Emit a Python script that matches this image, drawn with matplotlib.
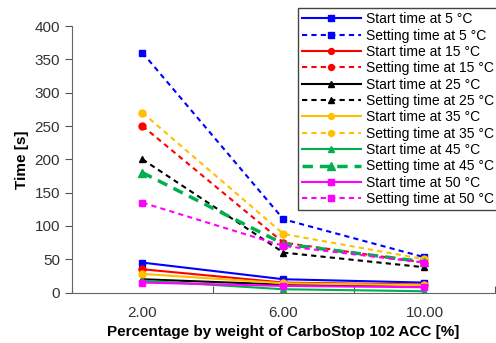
import numpy as np
from matplotlib import pyplot as plt

plt.rcParams['font.family'] = ['Liberation Sans', 'DejaVu Sans']

categories = ['2.00', '6.00', '10.00']
temps = [5, 15, 25, 35, 45, 50]

start_5 = [45, 20, 15]
setting_5 = [360, 110, 53]
start_15 = [35, 15, 12]
setting_15 = [250, 75, 45]
start_25 = [20, 12, 10]
setting_25 = [200, 60, 38]
start_35 = [28, 14, 11]
setting_35 = [270, 88, 50]
start_45 = [18, 5, 2]
setting_45 = [180, 73, 46]
start_50 = [15, 10, 8]
setting_50 = [135, 70, 45]

starts = [start_5, start_15, start_25, start_35, start_45, start_50]
settings = [setting_5, setting_15, setting_25, setting_35, setting_45, setting_50]
colors = ['#0000FF', '#FF0000', '#000000', '#FFC000', '#00B050', '#FF00FF']
markers = ['s', 'o', '^', 'o', '^', 's']

fig = plt.figure(figsize=(4.96, 3.43), dpi=100)
ax = fig.add_axes([0.145, 0.147, 0.853, 0.777])
x = np.arange(len(categories))

for t, st, se, c, m in zip(temps, starts, settings, colors, markers):
    ax.plot(x, st, '-', color=c, marker=m, ms=5, lw=1.5, label='Start time at %d °C' % t)
    if t == 45:
        ax.plot(x, se, '--', color=c, marker=m, ms=6, lw=2.5, dashes=(3, 2),
                label='Setting time at %d °C' % t)
    else:
        ax.plot(x, se, '--', color=c, marker=m, ms=5, lw=1.5, dashes=(2.5, 2),
                label='Setting time at %d °C' % t)

ax.set_xlim(-0.5, 2.5)
ax.set_ylim(0, 400)
ax.set_yticks(np.arange(0, 401, 50))
ax.set_xticks([-0.5, 0.5, 1.5, 2.5])
ax.set_xticklabels([])
ax.set_xticks(x, minor=True)
ax.set_xticklabels(categories, minor=True)
ax.tick_params(axis='x', which='minor', length=0, pad=10, labelsize=11, colors='#333333')
ax.tick_params(axis='x', which='major', length=5, color='#555555', direction='in')
ax.tick_params(axis='y', length=5, color='#555555', labelsize=11, labelcolor='#333333')

for s in ['top', 'right']:
    ax.spines[s].set_visible(False)
for s in ['left', 'bottom']:
    ax.spines[s].set_color('#666666')

ax.set_ylabel('Time [s]', fontsize=11, fontweight='bold')
ax.set_xlabel('Percentage by weight of CarboStop 102 ACC [%]', fontsize=11, fontweight='bold', labelpad=3)

leg = ax.legend(loc='upper left', bbox_to_anchor=(298 / 496, 1 - 8 / 343),
                bbox_transform=fig.transFigure,
                prop={'family': ['Liberation Sans Narrow', 'Liberation Sans'], 'size': 10},
                labelspacing=0.17, handlelength=4.2, handletextpad=0.4, borderpad=0.3,
                borderaxespad=0, frameon=True, fancybox=False, framealpha=1, markerscale=0.85)
leg.get_frame().set_edgecolor('#444444')
leg.get_frame().set_linewidth(1.0)

plt.savefig('out.png', dpi=100)
